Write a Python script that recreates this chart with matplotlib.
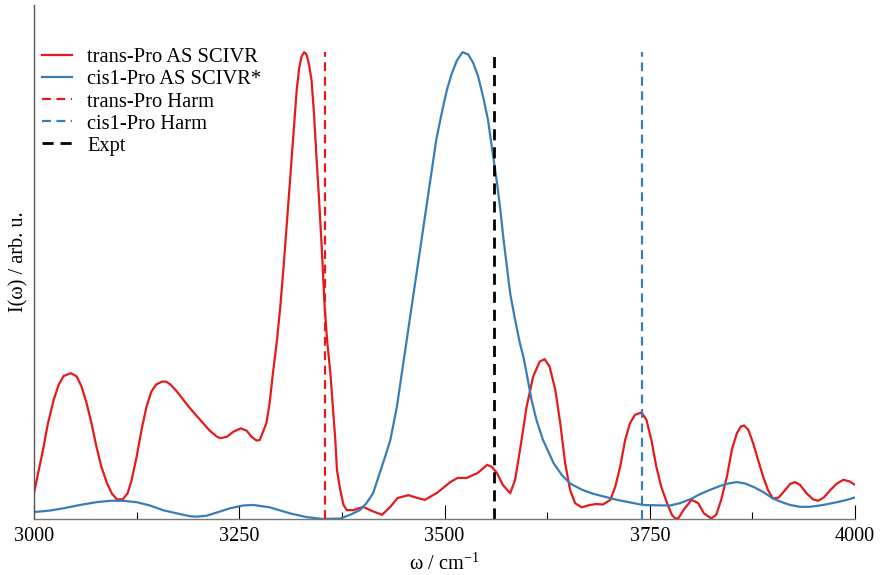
import matplotlib
matplotlib.use("Agg")
import matplotlib.pyplot as plt
from matplotlib.ticker import MultipleLocator

# ---- data ----
trans_x = [3000, 3005, 3011, 3017, 3024, 3030, 3036, 3045, 3052, 3058, 3064, 3070, 3076, 3082,
           3089, 3095, 3101, 3108, 3114, 3119, 3125, 3131, 3137, 3143, 3149, 3156, 3161, 3166,
           3174, 3182, 3190, 3198, 3206, 3214, 3223, 3227, 3235, 3243, 3252, 3259, 3265, 3271,
           3275, 3283, 3287, 3291, 3296, 3300, 3304, 3308, 3311, 3314, 3317, 3320, 3323, 3326,
           3329, 3332, 3335, 3338, 3341, 3344, 3347, 3350, 3352, 3354, 3357, 3361, 3364, 3367,
           3369, 3373, 3377, 3381, 3389, 3401, 3412, 3424, 3434, 3443, 3456, 3467, 3476, 3491,
           3507, 3516, 3527, 3540, 3552, 3558, 3564, 3571, 3580, 3586, 3592, 3600, 3608, 3616,
           3622, 3628, 3635, 3641, 3647, 3653, 3659, 3667, 3677, 3685, 3693, 3702, 3708, 3714,
           3720, 3726, 3732, 3740, 3746, 3752, 3758, 3764, 3771, 3777, 3781, 3785, 3791, 3801,
           3809, 3816, 3825, 3831, 3837, 3844, 3850, 3856, 3861, 3865, 3870, 3876, 3882, 3888,
           3894, 3900, 3907, 3913, 3921, 3927, 3933, 3941, 3949, 3955, 3962, 3970, 3978, 3986,
           3994, 4000]
trans_y = [0.055, 0.098, 0.148, 0.205, 0.255, 0.287, 0.306, 0.312, 0.305, 0.283, 0.248, 0.205,
           0.155, 0.112, 0.076, 0.054, 0.042, 0.042, 0.055, 0.084, 0.133, 0.191, 0.240, 0.273,
           0.288, 0.294, 0.294, 0.288, 0.273, 0.255, 0.237, 0.221, 0.205, 0.189, 0.176, 0.173,
           0.176, 0.187, 0.194, 0.189, 0.176, 0.168, 0.169, 0.205, 0.248, 0.312, 0.383, 0.455,
           0.540, 0.633, 0.704, 0.776, 0.847, 0.919, 0.965, 0.990, 0.999, 0.994, 0.972, 0.940,
           0.869, 0.776, 0.690, 0.597, 0.526, 0.455, 0.383, 0.312, 0.240, 0.169, 0.105, 0.062,
           0.030, 0.019, 0.019, 0.026, 0.017, 0.009, 0.026, 0.045, 0.051, 0.045, 0.041, 0.056,
           0.079, 0.088, 0.088, 0.098, 0.116, 0.111, 0.098, 0.073, 0.055, 0.084, 0.148, 0.240,
           0.305, 0.337, 0.342, 0.326, 0.276, 0.205, 0.119, 0.062, 0.034, 0.025, 0.030, 0.032,
           0.031, 0.041, 0.069, 0.112, 0.169, 0.205, 0.223, 0.228, 0.212, 0.169, 0.112, 0.069,
           0.034, 0.009, 0.001, 0.002, 0.019, 0.041, 0.034, 0.012, 0.001, 0.009, 0.041, 0.091,
           0.148, 0.183, 0.198, 0.200, 0.191, 0.162, 0.126, 0.091, 0.062, 0.044, 0.046, 0.058,
           0.075, 0.079, 0.073, 0.055, 0.042, 0.039, 0.046, 0.062, 0.076, 0.084, 0.080, 0.073]

cis_x = [3000, 3007, 3019, 3036, 3056, 3076, 3093, 3108, 3125, 3141, 3157, 3174, 3190, 3198,
         3210, 3223, 3239, 3255, 3267, 3287, 3312, 3332, 3352, 3373, 3385, 3397, 3405, 3413,
         3421, 3428, 3434, 3442, 3448, 3454, 3460, 3466, 3472, 3478, 3484, 3490, 3497, 3503,
         3509, 3515, 3522, 3529, 3535, 3541, 3547, 3553, 3557, 3564, 3568, 3572, 3576, 3580,
         3586, 3592, 3596, 3600, 3606, 3612, 3620, 3633, 3643, 3653, 3667, 3681, 3710, 3742,
         3766, 3775, 3787, 3799, 3811, 3823, 3836, 3846, 3856, 3866, 3876, 3888, 3900, 3911,
         3921, 3933, 3945, 3961, 3978, 3990, 4000]
cis_y = [0.015, 0.016, 0.018, 0.023, 0.030, 0.036, 0.039, 0.039, 0.036, 0.029, 0.019, 0.012,
         0.006, 0.005, 0.007, 0.014, 0.023, 0.029, 0.030, 0.025, 0.012, 0.004, 0.000, 0.001,
         0.009, 0.019, 0.034, 0.055, 0.098, 0.135, 0.169, 0.240, 0.312, 0.383, 0.455, 0.526,
         0.597, 0.669, 0.740, 0.812, 0.872, 0.919, 0.954, 0.981, 0.999, 0.994, 0.976, 0.947,
         0.904, 0.854, 0.804, 0.719, 0.662, 0.597, 0.540, 0.483, 0.426, 0.375, 0.348, 0.312,
         0.255, 0.212, 0.169, 0.119, 0.094, 0.076, 0.063, 0.054, 0.041, 0.030, 0.029, 0.029,
         0.034, 0.042, 0.053, 0.062, 0.071, 0.076, 0.079, 0.076, 0.069, 0.058, 0.044, 0.036,
         0.030, 0.026, 0.026, 0.030, 0.036, 0.041, 0.046]

trans_harm = 3355
cis_harm = 3741
expt = 3560
line_top = 1.0

labels = ["trans-Pro AS SCIVR", "cis1-Pro AS SCIVR*", "trans-Pro Harm", "cis1-Pro Harm", "Expt"]
xticks = [3000, 3250, 3500, 3750, 4000]

RED = "#e41a1c"
BLUE = "#377eb8"

plt.rcParams['font.family'] = ['Liberation Serif', 'DejaVu Serif']
plt.rcParams['mathtext.fontset'] = 'custom'
plt.rcParams['mathtext.rm'] = 'Liberation Serif'

fig = plt.figure(figsize=(8.81, 5.75), dpi=100)
ax = fig.add_axes([34/881, 1-519/575, (855-34)/881, (519-5)/575])

l1, = ax.plot(trans_x, trans_y, color=RED, lw=1.6, label=labels[0])
l2, = ax.plot(cis_x, cis_y, color=BLUE, lw=1.6, label=labels[1])
l3 = ax.vlines(trans_harm, 0, line_top, colors=RED, linestyles=(0, (4, 2.5)), lw=1.6, label=labels[2])
l4 = ax.vlines(cis_harm, 0, line_top, colors=BLUE, linestyles=(0, (4, 2.5)), lw=1.6, label=labels[3])
l5 = ax.vlines(expt, 0, line_top, colors="black", linestyles=(0, (4, 2.5)), lw=2.0, label=labels[4])

ax.set_xlim(3000, 4000)
ax.set_ylim(0, 1.1)
ax.set_xticks(xticks)
ax.set_xticklabels([str(t) for t in xticks], fontsize=14.6)
ax.xaxis.set_minor_locator(MultipleLocator(125))
ax.tick_params(axis='x', which='major', direction='in', length=10, width=0.8, pad=6)
ax.tick_params(axis='x', which='minor', direction='in', length=5, width=0.8)
ax.set_yticks([])
for s in ['top', 'right']:
    ax.spines[s].set_visible(False)
ax.spines['left'].set_color('#555555')
ax.spines['bottom'].set_color('#777777')
ax.spines['left'].set_linewidth(1.0)
ax.spines['bottom'].set_linewidth(1.0)

ax.set_xlabel(r"ω / cm$^{\mathregular{-1}}$", fontsize=14.6, labelpad=5)
ax.set_ylabel("I(ω) / arb. u.", fontsize=14.6, labelpad=4)

ax.legend(handles=[l1, l2, l3, l4, l5], loc='upper left', bbox_to_anchor=(42/881, 1-48/575),
          bbox_transform=fig.transFigure, frameon=False, fontsize=14.8, handlelength=1.45,
          handletextpad=0.75, labelspacing=0.13, borderpad=0, borderaxespad=0)

fig.savefig("out.png", dpi=100)
